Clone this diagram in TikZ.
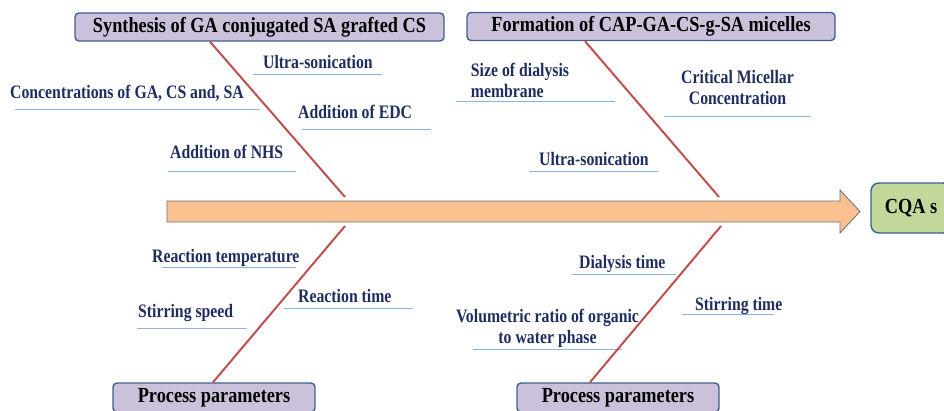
\documentclass[tikz,border=0pt]{standalone}
\usepackage{fontspec}
\setmainfont{Liberation Serif}
\newfontfamily\lblfont{Liberation Serif}[FakeStretch=0.83]
\newfontfamily\boxfont{Liberation Serif}[FakeStretch=0.85]
\definecolor{boxfill}{RGB}{204,193,218}
\definecolor{boxborder}{RGB}{60,96,145}
\definecolor{cqafill}{RGB}{196,215,155}
\definecolor{lblcol}{RGB}{31,45,96}
\definecolor{ulcol}{RGB}{141,179,226}
\definecolor{bonecol}{RGB}{192,80,77}
\definecolor{arrowfill}{RGB}{250,192,144}
\definecolor{arrowborder}{RGB}{110,110,110}
\begin{document}
\begin{tikzpicture}[x=1pt,y=-1pt,
  box/.style={draw=boxborder, line width=1.4pt, fill=boxfill, rounded corners=4pt,
    minimum height=28pt, inner sep=0pt, font=\boxfont\fontsize{21.5}{25}\selectfont\bfseries, text=black},
  lbl/.style={font=\lblfont\fontsize{19}{21}\selectfont\bfseries, text=lblcol, inner sep=0pt},
  uline/.style={draw=ulcol, line width=1pt},
  bone/.style={draw=bonecol, line width=2pt}]
\useasboundingbox (0,0) rectangle (944,410);

% main arrow
\filldraw[fill=arrowfill, draw=arrowborder, line width=0.8pt]
  (167,201) -- (840,201) -- (840,190) -- (860,211.5) -- (840,233) -- (840,222) -- (167,222) -- cycle;
\coordinate (j1t) at (345,197);
\coordinate (j1b) at (345,226);
\coordinate (j2t) at (719,197);
\coordinate (j2b) at (721,226);

% boxes
\node[box, minimum width=369pt] (t1) at (259.5,27) {Synthesis of GA conjugated SA grafted CS};
\node[box, minimum width=368pt] (t2) at (651,26.5) {Formation of CAP-GA-CS-g-SA micelles};
\node[box, minimum width=202pt, minimum height=29pt] (b1) at (214,397.5) {Process parameters};
\node[box, minimum width=202pt, minimum height=29pt] (b2) at (618,397.5) {Process parameters};
\node[box, fill=cqafill, rounded corners=8pt, minimum width=80pt, minimum height=50pt] (cqa) at (911,208) {CQA s};

% underlines
\draw[uline] (253,74) -- (382,74);
\draw[uline] (15,109) -- (260,109);
\draw[uline] (302,129) -- (431,129);
\draw[uline] (168,171) -- (296,171);
\draw[uline] (456,101) -- (615,101);
\draw[uline] (664,116) -- (811,116);
\draw[uline] (529,171) -- (658,171);
\draw[uline] (162,267) -- (296,267);
\draw[uline] (137,328) -- (247,328);
\draw[uline] (284,308) -- (413,308);
\draw[uline] (572,274) -- (676,274);
\draw[uline] (682,314) -- (774,314);
\draw[uline] (473,349) -- (622,349);

% labels
\node[lbl, anchor=base west] (l1) at (263,68) {Ultra-sonication};
\node[lbl, anchor=base west] (l2) at (10,98) {Concentrations of GA, CS and, SA};
\node[lbl, anchor=base west] (l3) at (298,118) {Addition of EDC};
\node[lbl, anchor=base west] (l4) at (170,158) {Addition of NHS};
\node[lbl, align=left] (l5) at (520,80) {Size of dialysis\\ membrane};
\node[lbl, align=center] (l6) at (737.5,87) {Critical Micellar\\Concentration};
\node[lbl, anchor=base west] (l7) at (539,165) {Ultra-sonication};
\node[lbl, anchor=base west] (l8) at (152,262) {Reaction temperature};
\node[lbl, anchor=base west] (l9) at (138,317) {Stirring speed};
\node[lbl, anchor=base west] (l10) at (298,302) {Reaction time};
\node[lbl, anchor=base west] (l11) at (579,268) {Dialysis time};
\node[lbl, anchor=base west] (l12) at (695,310) {Stirring time};
\node[lbl, align=center] (l13) at (547.5,328) {Volumetric ratio of organic\\to water phase};

% bones
\draw[bone] ([xshift=-49.5pt]t1.south) -- (j1t);
\draw[bone] ([xshift=-66pt]t2.south) -- (j2t);
\draw[bone] (j1b) -- ([xshift=-1pt]b1.north);
\draw[bone] (j2b) -- ([xshift=-28pt]b2.north);
\end{tikzpicture}
\end{document}
